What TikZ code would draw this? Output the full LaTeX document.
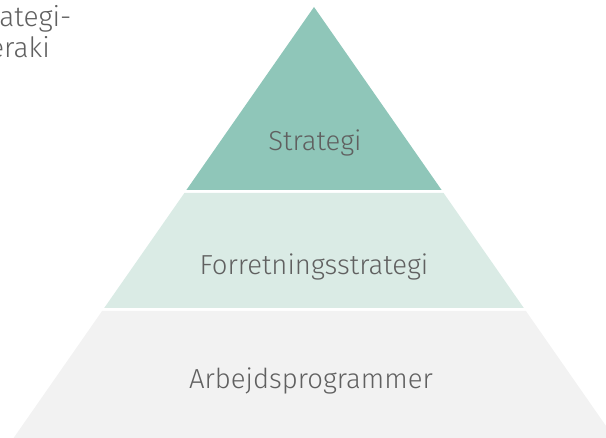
\documentclass[tikz,border=0pt]{standalone}
\usepackage{fontspec}
\setmainfont{Fira Sans Light}
\usetikzlibrary{calc}
\definecolor{topc}{HTML}{8FC6B9}
\definecolor{midc}{HTML}{DAEBE5}
\definecolor{botc}{HTML}{F2F2F2}
\definecolor{txtc}{HTML}{606060}
\tikzset{
  lbl/.style={font=\fontsize{27.5}{31}\selectfont, text=txtc, inner sep=0pt, anchor=base},
  ttl/.style={font=\fontsize{28}{31}\selectfont, text=txtc, inner sep=0pt, anchor=base west, align=left},
}
\begin{document}
\begin{tikzpicture}[x=1pt,y=1pt]
\useasboundingbox (0,0) rectangle (606,438);
\clip (0,0) rectangle (606,438);
% y_tikz = 438 - y_px
\fill[topc] (314,431) -- (441.6,248) -- (186.4,248) -- cycle;
\fill[midc] (184.4,245) -- (443.6,245) -- (523.8,130) -- (104.2,130) -- cycle;
\fill[botc] (102.1,127) -- (525.9,127) -- (614.4,0) -- (13.6,0) -- cycle;
\node[lbl] (s) at (315,287) {Strategi};
\node[lbl] (f) at (314,163) {Forretningsstrategi};
\node[lbl] (a) at (311,49) {Arbejdsprogrammer};
\node[ttl] (t) at (-35,380) {Strategi-\\hieraki};
\end{tikzpicture}
\end{document}
